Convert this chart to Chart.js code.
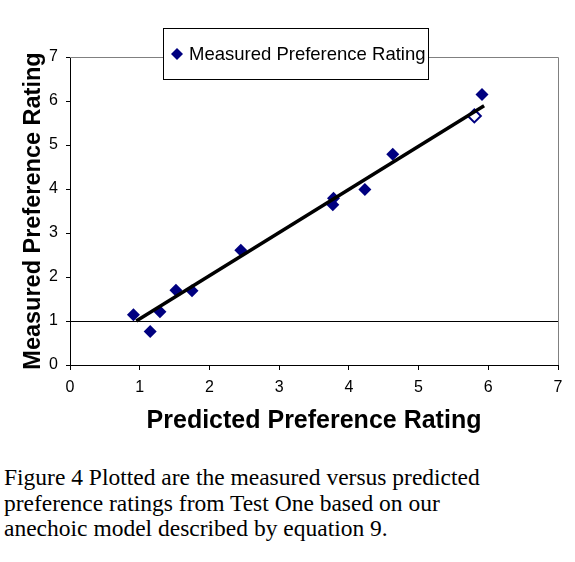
<!DOCTYPE html>
<html>
<head>
<meta charset="utf-8">
<script src="https://cdn.jsdelivr.net/npm/chart.js@4/dist/chart.umd.min.js"></script>
<style>
  html, body { margin: 0; padding: 0; background: #fff; }
  #wrap { position: relative; width: 575px; height: 562px; }
  #c { position: absolute; left: 0; top: 0; }
  #caption { position: absolute; left: 4px; top: 465px; font-family: "Liberation Serif", "Times New Roman", serif; font-size: 23.5px; line-height: 25.5px; color: #000; white-space: nowrap; }
</style>
</head>
<body>
<div id="wrap">
  <canvas id="c" width="575" height="445"></canvas>
  <div id="caption">Figure 4 Plotted are the measured versus predicted<br>preference ratings from Test One based on our<br>anechoic model described by equation 9.</div>
</div>
<script>
// ---- data ----
const predicted = [0.91, 1.15, 1.29, 1.52, 1.75, 2.45, 3.77, 3.78, 4.23, 4.63, 5.80, 5.91];
const measured  = [1.14, 0.76, 1.21, 1.70, 1.69, 2.61, 3.64, 3.79, 3.99, 4.79, 5.66, 6.15];
const trendX = [0.95, 5.94];
const trendY = [1.00, 5.89];
const xTicks = [0, 1, 2, 3, 4, 5, 6, 7];
const yTicks = [0, 1, 2, 3, 4, 5, 6, 7];
const seriesLabel = "Measured Preference Rating";
const xTitle = "Predicted Preference Rating";
const yTitle = "Measured Preference Rating";
const hollowIndex = 10;

const NAVY = '#000080';

const pts = predicted.map((x, i) => ({ x: x, y: measured[i] }));
const trend = trendX.map((x, i) => ({ x: x, y: trendY[i] }));

const framePlugin = {
  id: 'frame',
  beforeDatasetsDraw(chart) {
    const { ctx, chartArea: a } = chart;
    ctx.save();
    ctx.strokeStyle = '#808080';
    ctx.lineWidth = 1;
    ctx.beginPath();
    ctx.moveTo(a.left, a.top + 0.5);
    ctx.lineTo(a.right + 0.5, a.top + 0.5);
    ctx.lineTo(a.right + 0.5, a.bottom);
    ctx.stroke();
    ctx.restore();
  },
  afterDraw(chart) {
    const { ctx } = chart;
    ctx.save();
    const bx = 163.5, by = 28.5, bw = 265, bh = 51;
    ctx.fillStyle = '#fff';
    ctx.fillRect(bx, by, bw, bh);
    ctx.strokeStyle = '#000';
    ctx.lineWidth = 1;
    ctx.strokeRect(bx, by, bw, bh);
    const cy = by + bh / 2;
    const mx = 177, r = 6;
    ctx.fillStyle = NAVY;
    ctx.beginPath();
    ctx.moveTo(mx, cy - r);
    ctx.lineTo(mx + r, cy);
    ctx.lineTo(mx, cy + r);
    ctx.lineTo(mx - r, cy);
    ctx.closePath();
    ctx.fill();
    ctx.fillStyle = '#000';
    ctx.font = '18.5px "Liberation Sans", Arial, sans-serif';
    ctx.textBaseline = 'middle';
    ctx.textAlign = 'left';
    ctx.fillText(seriesLabel, 189, cy + 1);
    ctx.restore();
  }
};

new Chart(document.getElementById('c'), {
  type: 'scatter',
  data: {
    datasets: [
      {
        label: seriesLabel,
        data: pts,
        pointStyle: 'rectRot',
        pointRadius: 6.5,
        pointHoverRadius: 6.5,
        pointBackgroundColor: ctx => ctx.dataIndex === hollowIndex ? '#fff' : NAVY,
        pointBorderColor: NAVY,
        pointBorderWidth: ctx => ctx.dataIndex === hollowIndex ? 2 : 0,
        order: 1
      },
      {
        type: 'line',
        label: 'trend',
        data: trend,
        borderColor: '#000',
        borderWidth: 3.5,
        pointRadius: 0,
        showLine: true,
        fill: false,
        order: 0
      }
    ]
  },
  options: {
    responsive: false,
    devicePixelRatio: 1,
    animation: false,
    layout: { padding: { left: 0, right: 17, top: 57, bottom: 0 } },
    plugins: { legend: { display: false }, tooltip: { enabled: false } },
    scales: {
      x: {
        type: 'linear',
        min: 0, max: 7,
        afterBuildTicks: s => { s.ticks = xTicks.map(v => ({ value: v })); },
        afterFit: s => { s.height = 80; },
        ticks: { color: '#000', font: { family: '"Liberation Sans", Arial, sans-serif', size: 16 }, padding: 8, maxRotation: 0 },
        grid: { drawOnChartArea: false, tickColor: '#000', tickLength: 5, color: '#000' },
        border: { color: '#000', width: 1 },
        title: { display: true, text: xTitle, color: '#000', font: { family: '"Liberation Sans", Arial, sans-serif', size: 25, weight: 'bold' }, padding: { top: 0, bottom: 9 } }
      },
      y: {
        type: 'linear',
        min: 0, max: 7,
        afterBuildTicks: s => { s.ticks = yTicks.map(v => ({ value: v })); },
        afterFit: s => { s.width = 70; },
        ticks: { color: '#000', font: { family: '"Liberation Sans", Arial, sans-serif', size: 16 }, padding: 8 },
        grid: {
          drawOnChartArea: true,
          color: c => (c.tick && c.tick.value === 1) ? '#000' : 'rgba(0,0,0,0)',
          tickColor: '#000',
          tickLength: 4
        },
        border: { color: '#000', width: 1 },
        title: { display: true, text: yTitle, color: '#000', font: { family: '"Liberation Sans", Arial, sans-serif', size: 23.5, weight: 'bold' }, padding: { top: 19, bottom: 0 } }
      }
    }
  },
  plugins: [framePlugin]
});
</script>
</body>
</html>
